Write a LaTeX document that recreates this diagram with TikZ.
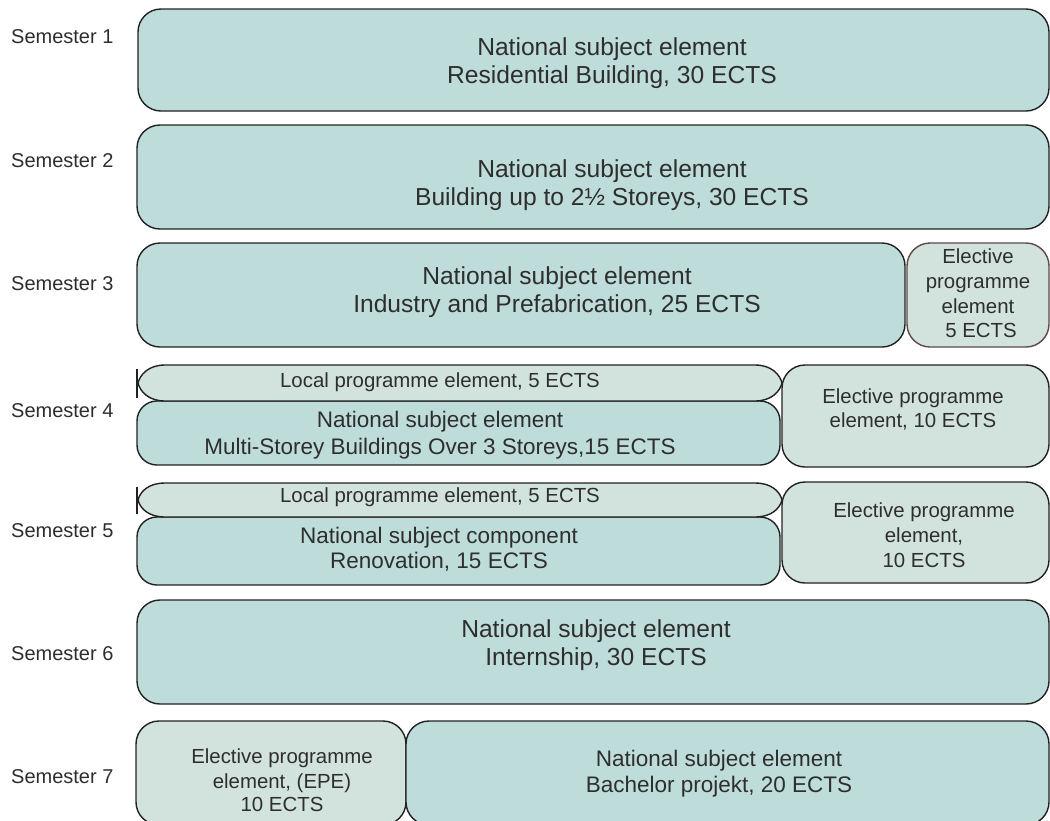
\documentclass[tikz,border=0pt]{standalone}
\usepackage{fontspec}
\setmainfont{Liberation Sans}
\definecolor{natfill}{HTML}{BEDCDA}
\definecolor{ltfill}{HTML}{D2E3DD}
\definecolor{edgecol}{HTML}{222222}
\definecolor{txtcol}{HTML}{2E2E2E}
\definecolor{edgebrown}{HTML}{5E4848}
\begin{document}
\begin{tikzpicture}[x=1pt,y=-1pt,
  nat/.style={draw=edgecol, fill=natfill, line width=1.4pt, rounded corners=23pt, anchor=north west, inner sep=0pt, outer sep=0pt},
  lt/.style={nat, fill=ltfill},
  lbox/.style={draw=edgecol, fill=ltfill, line width=1.4pt},
  big/.style={font=\fontsize{24.6}{28}\selectfont, text=txtcol, anchor=base, inner sep=0pt},
  mid/.style={font=\fontsize{22.5}{27}\selectfont, text=txtcol, anchor=base, inner sep=0pt},
  sml/.style={font=\fontsize{20.4}{24}\selectfont, text=txtcol, anchor=base, inner sep=0pt},
  sem/.style={font=\fontsize{20}{24}\selectfont, text=txtcol, anchor=base west, inner sep=0pt}]
\useasboundingbox (0,0) rectangle (1050,820);
\fill[white] (0,0) rectangle (1050,820);
\clip (0,0) rectangle (1050,820);

% semester labels
\node[sem] (s1) at (11,43) {Semester 1};
\node[sem] (s2) at (11,167) {Semester 2};
\node[sem] (s3) at (11,290) {Semester 3};
\node[sem] (s4) at (11,417) {Semester 4};
\node[sem] (s5) at (11,537) {Semester 5};
\node[sem] (s6) at (11,660) {Semester 6};
\node[sem] (s7) at (11,783) {Semester 7};

% row 1
\node[nat, minimum width=911pt, minimum height=102pt] (b1) at (138,9) {};
\node[big] (t1a) at (612,55) {National subject element};
\node[big] (t1b) at (612,83) {Residential Building, 30 ECTS};

% row 2
\node[nat, minimum width=912pt, minimum height=104pt] (b2) at (137,125) {};
\node[big] (t2a) at (612,177) {National subject element};
\node[big] (t2b) at (612,205) {Building up to 2½ Storeys, 30 ECTS};

% row 3
\node[nat, minimum width=768pt, minimum height=104pt] (b3) at (137,243) {};
\node[big] (t3a) at (557,284) {National subject element};
\node[big] (t3b) at (557,312) {Industry and Prefabrication, 25 ECTS};
\node[lt, draw=edgebrown, minimum width=142pt, minimum height=104pt] (e3) at (907,243) {};
\node[sml] (e3a) at (978,263) {Elective};
\node[sml] (e3b) at (978,288) {programme};
\node[sml] (e3c) at (978,313) {element};
\node[sml] (e3d) at (981,337) {5 ECTS};

% row 4
\node[nat, rounded corners=20pt, minimum width=643pt, minimum height=64pt] (b4) at (137,401) {};
\draw[lbox] (165,365) -- (755,365) .. controls (772,365) and (780,375) .. (782,383)
  .. controls (780,391) and (772,401) .. (755,401) -- (165,401)
  .. controls (148,401) and (140,391) .. (138,383)
  .. controls (140,375) and (148,365) .. (165,365) -- cycle;
\draw[draw=edgecol, line width=1.4pt] (137,369) -- (137,398);
\node[sml] (l4) at (440,387) {Local programme element, 5 ECTS};
\node[mid] (t4a) at (440,427) {National subject element};
\node[mid] (t4b) at (440,454) {Multi-Storey Buildings Over 3 Storeys,15 ECTS};
\node[lt, minimum width=267pt, minimum height=102pt] (e4) at (782,365) {};
\node[sml] (e4a) at (913,403) {Elective programme};
\node[sml] (e4b) at (913,427) {element, 10 ECTS};

% row 5
\node[nat, rounded corners=20pt, minimum width=643pt, minimum height=68pt] (b5) at (137,517) {};
\draw[lbox] (165,483) -- (755,483) .. controls (772,483) and (780,492) .. (782,500)
  .. controls (780,508) and (772,517) .. (755,517) -- (165,517)
  .. controls (148,517) and (140,508) .. (138,500)
  .. controls (140,492) and (148,483) .. (165,483) -- cycle;
\draw[draw=edgecol, line width=1.4pt] (137,487) -- (137,514);
\node[sml] (l5) at (440,502) {Local programme element, 5 ECTS};
\node[mid] (t5a) at (439,543) {National subject component};
\node[mid] (t5b) at (439,568) {Renovation, 15 ECTS};
\node[lt, minimum width=267pt, minimum height=101pt] (e5) at (782,482) {};
\node[sml] (e5a) at (924,517) {Elective programme};
\node[sml] (e5b) at (924,542) {element,};
\node[sml] (e5c) at (924,567) {10 ECTS};

% row 6
\node[nat, minimum width=912pt, minimum height=104pt] (b6) at (137,600) {};
\node[big] (t6a) at (596,637) {National subject element};
\node[big] (t6b) at (596,665) {Internship, 30 ECTS};

% row 7
\node[lt, minimum width=270pt, minimum height=104pt] (e7) at (136,721) {};
\node[sml] (e7a) at (282,763) {Elective programme};
\node[sml] (e7b) at (282,788) {element, (EPE)};
\node[sml] (e7c) at (282,811) {10 ECTS};
\node[nat, minimum width=643pt, minimum height=104pt] (b7) at (406,721) {};
\node[mid] (t7a) at (719,766) {National subject element};
\node[mid] (t7b) at (719,792) {Bachelor projekt, 20 ECTS};
\end{tikzpicture}
\end{document}
